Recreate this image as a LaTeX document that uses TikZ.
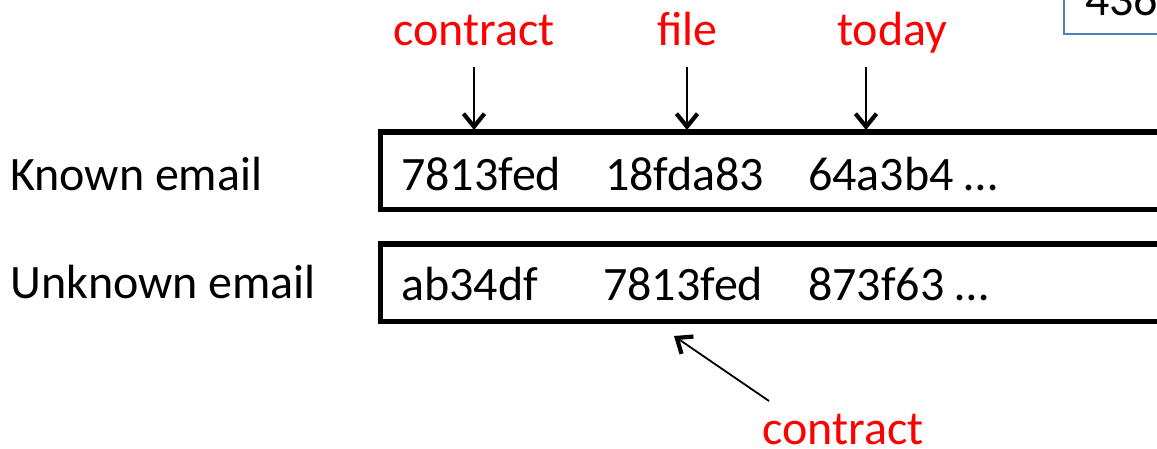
\documentclass[tikz,border=0pt]{standalone}
\usepackage{fontspec}
\setmainfont{Carlito}
\usetikzlibrary{arrows.meta}
\definecolor{wordred}{RGB}{255,0,0}
\definecolor{frameblue}{RGB}{79,129,189}
\begin{document}
\begin{tikzpicture}[x=1pt,y=-1pt,
  txt/.style={font=\fontsize{48}{58}\selectfont, inner sep=0pt, anchor=base west},
  word/.style={txt, text=wordred},
  hashbox/.style={draw, line width=5.5pt},
  pointer/.style={line width=1.8pt, -{Straight Barb[line width=4.2pt,length=13pt,width=21pt]}}]
\useasboundingbox (0,0) rectangle (1157,448);
\begin{scope}
\clip (0,0) rectangle (1157,448);
% hash rows
\draw[hashbox] (380.5,132) rectangle (1200,209.5);
\draw[hashbox] (380.5,244) rectangle (1200,321.5);
% partly hidden box in the corner
\draw[frameblue, line width=1.5pt] (1064,-30) rectangle (1200,34);
\node[txt] (corner) at (1085,15) {436};
% row labels
\node[txt] (known) at (10,190) {Known email};
\node[txt] (unknown) at (10,298) {Unknown email};
% hashes of the known email
\node[txt] (k1) at (401,190) {7813fed};
\node[txt] (k2) at (605,190) {18fda83};
\node[txt] (k3) at (808,190) {64a3b4 …};
% hashes of the unknown email
\node[txt] (u1) at (401,300) {ab34df};
\node[txt] (u2) at (603,300) {7813fed};
\node[txt] (u3) at (808,300) {873f63 …};
% words
\node[word] (w1) at (393,45) {contract};
\node[word] (w2) at (657,45) {file};
\node[word] (w3) at (837,45) {today};
\node[word] (w4) at (762,444) {contract};
% arrow ends
\coordinate (s1) at (474,67);  \coordinate (e1) at (474,130);
\coordinate (s2) at (687,67);  \coordinate (e2) at (687,130);
\coordinate (s3) at (866,67);  \coordinate (e3) at (866,130);
\coordinate (s4) at (769,401); \coordinate (e4) at (674,336);
\draw[pointer] (s1) -- (e1);
\draw[pointer] (s2) -- (e2);
\draw[pointer] (s3) -- (e3);
\draw[pointer] (s4) -- (e4);
\end{scope}
\end{tikzpicture}
\end{document}
